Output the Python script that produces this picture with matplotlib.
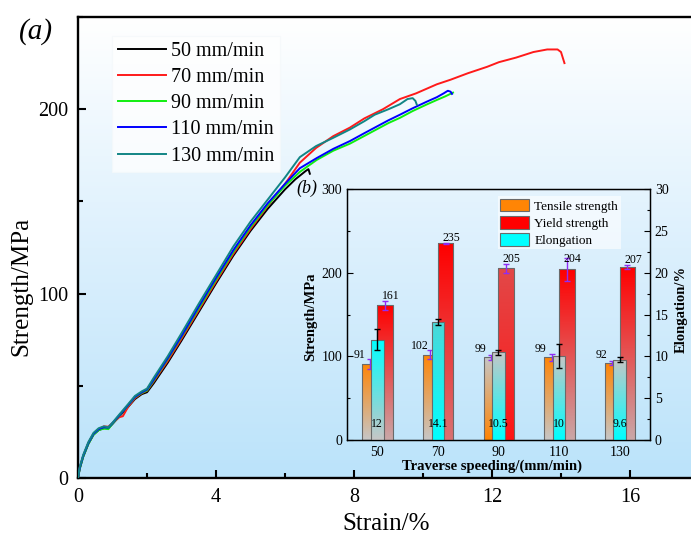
import numpy as np
import matplotlib
matplotlib.use('Agg')
import matplotlib.pyplot as plt
from matplotlib.colors import LinearSegmentedColormap
from matplotlib.patches import Patch
from matplotlib.ticker import MultipleLocator

plt.rcParams['font.family'] = ['Liberation Serif', 'DejaVu Serif']
plt.rcParams['mathtext.fontset'] = 'stix'

# ---- stress-strain curves (strain %, strength MPa) ----
strain_50 = [0, 0.05, 0.15, 0.3, 0.45, 0.6, 0.75, 0.88, 1.0, 1.2, 1.45, 1.65, 1.85, 2.0, 2.2, 2.6, 3.0, 3.5,
             4.0, 4.5, 5.0, 5.5, 6.0, 6.3, 6.6, 6.68, 6.72]
stress_50 = [0, 5, 11.5, 18.5, 23.5, 26, 27, 27, 29.3, 33.5, 38.5, 42.8, 45.5, 46.5, 51.5, 62.5, 74.5, 90,
             105.5, 120.5, 134, 146, 156.5, 162, 166.5, 167.5, 165]

strain_70 = [0, 0.05, 0.15, 0.3, 0.45, 0.6, 0.75, 0.88, 1.0, 1.2, 1.3, 1.45, 1.65, 1.85, 2.0, 2.2, 2.6, 3.0,
             3.5, 4.0, 4.5, 5.0, 5.5, 6.0, 6.43, 6.9, 7.4, 7.88, 8.3, 8.84, 9.33, 9.8, 10.4, 10.8, 11.3,
             11.86, 12.2, 12.7, 13.2, 13.6, 13.9, 14.0, 14.1]
stress_70 = [0, 5.5, 12, 19, 24, 26.5, 28, 27.8, 29.8, 33, 33.5, 38.5, 43.3, 46, 47.3, 52.5, 63.5, 75.5,
             91, 106.5, 121.5, 135, 147.5, 159.5, 171, 179, 185.4, 190, 195, 200, 205.5, 208.6, 213.5,
             216, 219.5, 223, 225.5, 228, 231, 232.4, 232.4, 231, 225]

strain_90 = [0, 0.05, 0.15, 0.3, 0.45, 0.6, 0.75, 0.88, 1.0, 1.2, 1.45, 1.65, 1.85, 2.0, 2.2, 2.6, 3.0, 3.5,
             4.0, 4.5, 5.0, 5.5, 6.0, 6.43, 6.92, 7.4, 7.88, 8.3, 8.6, 9.0, 9.33, 9.7, 10.1, 10.4, 10.65,
             10.87]
stress_90 = [0, 5, 11.5, 18.5, 23.5, 26, 26.8, 26.5, 29.5, 33.8, 39.3, 43.8, 46.2, 47.5, 53, 64.5, 76.5, 92,
             107.5, 122.5, 136, 148, 158.5, 166, 172.5, 177.5, 181.3, 185.5, 188.5, 192.5, 195.3, 199,
             202.5, 205, 207, 209]

strain_110 = [0, 0.05, 0.15, 0.3, 0.45, 0.6, 0.75, 0.88, 1.0, 1.2, 1.45, 1.65, 1.85, 2.0, 2.2, 2.6, 3.0, 3.5,
              4.0, 4.5, 5.0, 5.5, 6.0, 6.43, 6.92, 7.4, 7.88, 8.3, 8.6, 9.0, 9.33, 9.7, 10.1, 10.4, 10.6,
              10.72, 10.8, 10.84]
stress_110 = [0, 5.5, 12, 19, 24, 26.5, 27.5, 27.3, 29.8, 34, 39.5, 44, 46.5, 48, 53.5, 65, 77, 93,
              108.5, 123.5, 137, 149, 159.5, 168, 173.5, 178.5, 182.7, 187, 190, 194, 197, 200.5, 204,
              206.5, 208.6, 210, 209.5, 208.3]

strain_130 = [0, 0.05, 0.15, 0.3, 0.45, 0.6, 0.75, 0.88, 1.0, 1.2, 1.45, 1.65, 1.85, 2.0, 2.2, 2.6, 3.0, 3.5,
              4.0, 4.5, 5.0, 5.5, 6.0, 6.43, 6.9, 7.4, 7.88, 8.3, 8.6, 9.0, 9.33, 9.55, 9.7, 9.78, 9.82]
stress_130 = [0, 6, 12.5, 19.5, 24.5, 27, 28, 27.5, 30, 34.5, 40, 44.5, 47, 48.5, 54.5, 66, 78.5, 94.5,
              110, 125.5, 139, 151, 163, 174, 180, 184.5, 189, 193.5, 197, 200, 202.7, 205.5, 206, 204.5,
              202.5]

curve_labels = ['50 mm/min', '70 mm/min', '90 mm/min', '110 mm/min', '130 mm/min']
curve_colors = ['#000000', '#ff1a1a', '#10ee10', '#0000ff', '#128585']

# ---- inset bar data ----
speeds = ['50', '70', '90', '110', '130']
tensile = [91, 102, 99, 99, 92]
tensile_err = [6, 5, 3, 4, 2.5]
yield_str = [161, 235, 205, 204, 207]
yield_err = [5.5, 1, 5.5, 13.5, 2.5]
elong = [12, 14.1, 10.5, 10, 9.6]
elong_err = [1.3, 0.35, 0.3, 1.45, 0.3]
elong_txt = ['12', '14.1', '10.5', '10', '9.6']

# gradient colours (top, bottom) for each bar
ORANGE, RED, CYAN, GREY, PGREY = '#ff8505', '#ff0000', '#00ffff', '#c6c6c6', '#c9a7a7'
tens_grad = [(ORANGE, GREY), (ORANGE, GREY), (GREY, ORANGE), (ORANGE, GREY), (ORANGE, GREY)]
yield_grad = [(RED, PGREY), (RED, '#d97272'), ('#e24848', '#ff1515'), (RED, PGREY), (RED, PGREY)]
elong_grad = [(CYAN, GREY), ('#4ad8d8', CYAN), (GREY, CYAN), (GREY, CYAN), (GREY, CYAN)]

W, H = 691, 535
fig = plt.figure(figsize=(W / 100, H / 100), dpi=100)

# main axes, right end runs off the picture (x up to 18)
ax = fig.add_axes([78 / W, 57 / H, 621 / W, 461 / H])
bg = LinearSegmentedColormap.from_list('bg', ['#bbe3fa', '#dcf0fd', '#ffffff'])
ax.imshow(np.linspace(0, 1, 256).reshape(-1, 1), cmap=bg, origin='lower', aspect='auto',
          extent=[0, 1, 0, 1], transform=ax.transAxes, zorder=0)

curves = [(strain_50, stress_50), (strain_70, stress_70), (strain_90, stress_90),
          (strain_110, stress_110), (strain_130, stress_130)]
for (xs, ys), lab, col in zip(curves, curve_labels, curve_colors):
    ax.plot(xs, ys, color=col, lw=1.4, label=lab, zorder=3)

ax.set_xlim(0, 18)
ax.set_ylim(0, 250)
ax.xaxis.set_major_locator(MultipleLocator(4))
ax.xaxis.set_minor_locator(MultipleLocator(2))
ax.yaxis.set_major_locator(MultipleLocator(100))
ax.yaxis.set_minor_locator(MultipleLocator(50))
ax.tick_params(which='both', direction='in', width=1.5, labelsize=14.5, top=False, right=False)
ax.tick_params(which='major', length=6, pad=7)
ax.tick_params(which='minor', length=3.5)
ax.spines['right'].set_visible(False)
for s in ['left', 'bottom', 'top']:
    ax.spines[s].set_linewidth(1.7)
ax.set_xlabel('Strain/%', fontsize=18)
ax.set_ylabel('Strength/MPa', fontsize=18)
ax.xaxis.set_label_coords(0.496, -0.077)
ax.yaxis.set_label_coords(-0.074, 0.415)

leg = ax.legend(loc='upper left', bbox_to_anchor=(0.039, 0.981), fontsize=14.5, frameon=True,
                handlelength=2.35, handletextpad=0.25, labelspacing=0.35, borderpad=0.3,
                fancybox=False, framealpha=0.75)
leg.get_frame().set_edgecolor('#f4f8fb')
leg.get_frame().set_linewidth(0.8)

fig.text(36 / W, 1 - 32 / H, '(a)', fontsize=21, style='italic', ha='center', va='center')

# ---- inset ----
ax_in = fig.add_axes([347 / W, 95 / H, 303 / W, 251 / H])
ax_in.patch.set_alpha(0)
ax2 = ax_in.twinx()
pos = np.arange(1, len(speeds) + 1)

def shade(axis, bars, grads, z):
    # fill each bar with a vertical gradient clipped to the bar
    for b, (top, bot) in zip(bars, grads):
        x0, w, h = b.get_x(), b.get_width(), b.get_height()
        cm = LinearSegmentedColormap.from_list('g', [bot, top])
        im = axis.imshow(np.linspace(0, 1, 100).reshape(-1, 1), cmap=cm, origin='lower',
                         aspect='auto', extent=[x0, x0 + w, 0, h], zorder=z)
        im.set_clip_path(b)

b_t = ax_in.bar(pos - 0.125, tensile, 0.245, facecolor='none', edgecolor='#6a6a6a', lw=0.8, zorder=2.1)
shade(ax_in, b_t, tens_grad, 2)
b_y = ax_in.bar(pos + 0.127, yield_str, 0.26, facecolor='none', edgecolor='#6a6a6a', lw=0.8, zorder=3.1)
shade(ax_in, b_y, yield_grad, 3)
ax_in.errorbar(pos - 0.125, tensile, yerr=tensile_err, fmt='none', ecolor='#8f2cf5', elinewidth=1,
               capsize=2.5, capthick=1, zorder=4)
ax_in.errorbar(pos + 0.127, yield_str, yerr=yield_err, fmt='none', ecolor='#8f2cf5', elinewidth=1,
               capsize=2.5, capthick=1, zorder=4)
for p, v in zip(pos, tensile):
    ax_in.text(p - 0.3, v + 10, str(v), fontsize=8.5, ha='center', va='center', zorder=5)
for p, v, e in zip(pos, yield_str, yield_err):
    ax_in.text(p + 0.22, v + min(e, 6) + 6, str(v), fontsize=8.5, ha='center', va='center', zorder=5)

b_e = ax2.bar(pos, elong, 0.205, facecolor='none', edgecolor='#6a6a6a', lw=0.8, zorder=2.1)
shade(ax2, b_e, elong_grad, 2)
ax2.errorbar(pos, elong, yerr=elong_err, fmt='none', ecolor='black', elinewidth=1,
             capsize=2.5, capthick=1, zorder=4)
for p, t in zip(pos, elong_txt):
    ax2.text(p, 1.87, t, fontsize=8.5, ha='center', va='center', zorder=5)

ax_in.set_xlim(0.5, 5.5)
ax_in.set_ylim(0, 300)
ax2.set_ylim(0, 30)
ax_in.set_xticks(pos)
ax_in.set_xticklabels(speeds)
ax_in.yaxis.set_major_locator(MultipleLocator(100))
ax_in.yaxis.set_minor_locator(MultipleLocator(50))
ax2.yaxis.set_major_locator(MultipleLocator(5))
ax2.yaxis.set_minor_locator(MultipleLocator(2.5))
ax_in.tick_params(axis='x', length=0, labelsize=10, pad=4)
ax_in.tick_params(axis='y', which='both', direction='in', labelsize=10, pad=3.5, width=0.8)
ax_in.tick_params(axis='y', which='major', length=4)
ax_in.tick_params(axis='y', which='minor', length=2.5)
ax2.tick_params(axis='y', which='both', direction='in', labelsize=10, pad=3.5, width=0.8)
ax2.tick_params(axis='y', which='major', length=4)
ax2.tick_params(axis='y', which='minor', length=2.5)
for a in (ax_in, ax2):
    for s in a.spines.values():
        s.set_linewidth(0.9)
ax_in.set_xlabel('Traverse speeding/(mm/min)', fontsize=10.5, fontweight='bold')
ax_in.set_ylabel('Strength/MPa', fontsize=10.5, fontweight='bold')
ax2.set_ylabel('Elongation/%', fontsize=10.5, fontweight='bold')
ax_in.xaxis.set_label_coords(0.478, -0.076)
ax_in.yaxis.set_label_coords(-0.098, 0.49)
ax2.yaxis.set_label_coords(1.08, 0.52)

handles = [Patch(facecolor=ORANGE, edgecolor='#6a6a6a', lw=0.8),
           Patch(facecolor=RED, edgecolor='#6a6a6a', lw=0.8),
           Patch(facecolor=CYAN, edgecolor='#6a6a6a', lw=0.8)]
leg2 = ax2.legend(handles, ['Tensile strength', 'Yield strength', 'Elongation'], loc='upper left',
                  bbox_to_anchor=(0.475, 0.998), fontsize=9.5, handlelength=2.2, handleheight=1.1,
                  handletextpad=0.4, labelspacing=0.25, borderpad=0.2, fancybox=False,
                  framealpha=0.6, edgecolor='none')
leg2.set_zorder(10)

fig.text(307 / W, 1 - 188 / H, '(b)', fontsize=13, style='italic', ha='center', va='center')

fig.savefig('out.png', dpi=100)
